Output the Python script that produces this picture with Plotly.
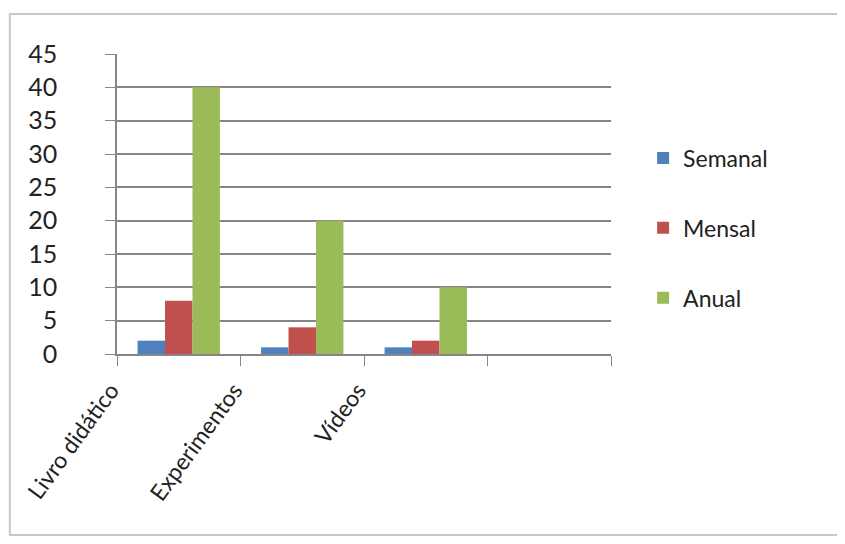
import plotly.graph_objects as go

categories = ["Livro didático", "Experimentos", "Vídeos", " "]
semanal = [2, 1, 1, None]
mensal = [8, 4, 2, None]
anual = [40, 20, 10, None]
series_names = ["Semanal", "Mensal", "Anual"]
series_colors = ["#4F81BD", "#C0504D", "#9BBB59"]
y_ticks = [0, 5, 10, 15, 20, 25, 30, 35, 40, 45]

FONT = "Lato, 'Open Sans', sans-serif"
fig = go.Figure()
for name, vals, col in zip(series_names, [semanal, mensal, anual], series_colors):
    fig.add_trace(go.Bar(x=categories, y=vals, name=name, marker_color=col,
                         marker_line_width=0, legendgroup=name))

fig.update_layout(
    width=845, height=544,
    margin=dict(l=109, r=242, t=46, b=198),
    paper_bgcolor="white", plot_bgcolor="white",
    font=dict(family=FONT, color="#222222", size=22),
    barmode="group", bargap=0.333, bargroupgap=0,
    showlegend=True,
    legend=dict(x=1.065, y=0.42, xanchor="left", yanchor="middle",
                font=dict(size=23, color="#222222"), tracegroupgap=37,
                itemwidth=30),
    shapes=[dict(type="rect", xref="paper", yref="paper", x0=-0.217, x1=1.464, y0=-0.603, y1=1.133,
                 line=dict(color="#C8C8C8", width=2), layer="below")],
)
fig.update_xaxes(
    type="category", categoryorder="array", categoryarray=categories,
    range=[-0.5, 3.5], tickson="boundaries", ticks="outside", ticklen=10,
    tickcolor="#868686", showline=True, linecolor="#868686", linewidth=1.5,
    showgrid=False, tickangle=-54, tickfont=dict(size=23, color="#222222"),
    ticklabelshift=-68, ticklabelstandoff=12, automargin=False,
)
fig.update_yaxes(
    range=[0, 45], tickvals=y_ticks, ticks="outside", ticklen=10,
    tickcolor="#868686", showline=True, linecolor="#868686", linewidth=1.5,
    showgrid=True, gridcolor="#868686", gridwidth=1.5, zeroline=False,
    tickfont=dict(size=25, color="#222222"), ticklabelstandoff=43, automargin=False,
)
fig.write_html("out.html")
